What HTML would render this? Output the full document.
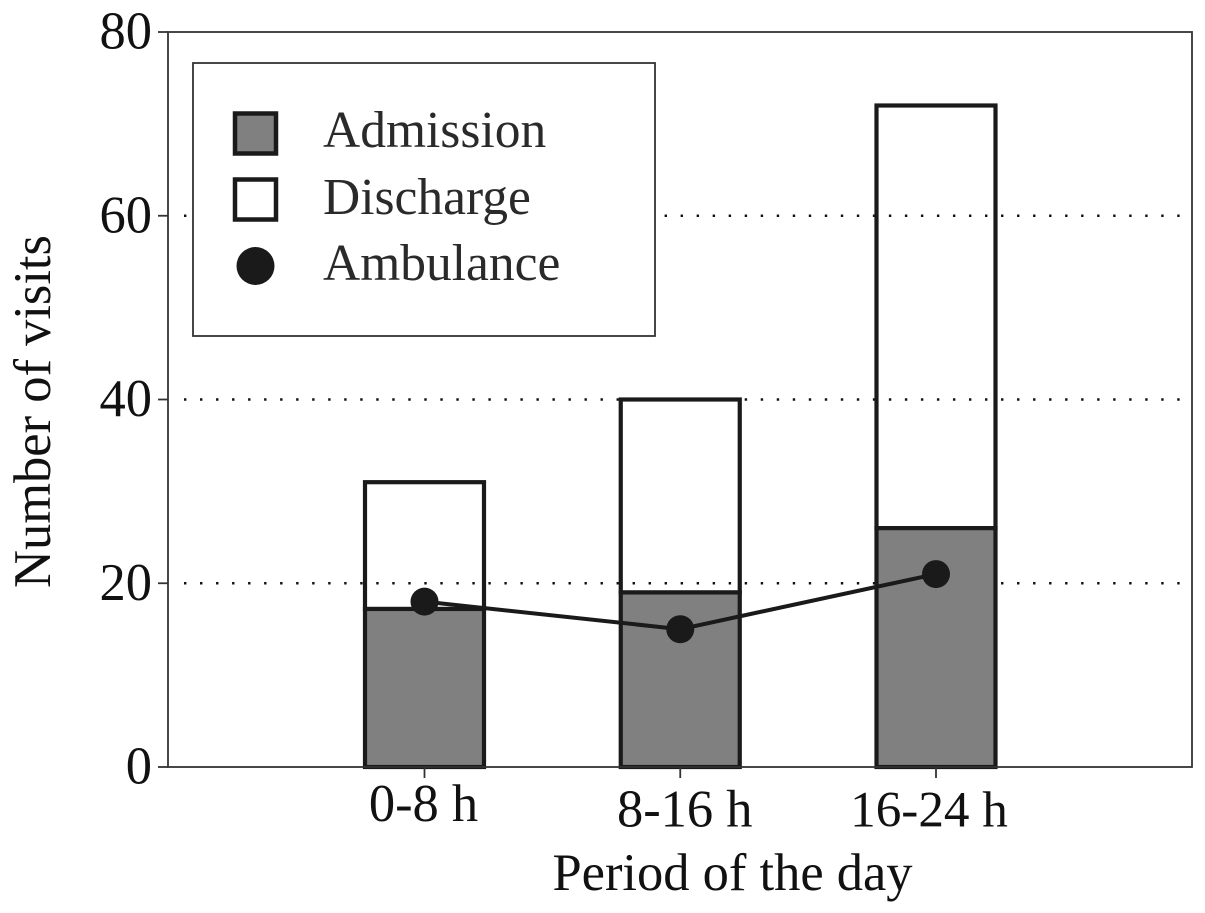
<!DOCTYPE html>
<html>
<head>
<meta charset="utf-8">
<style>
html,body{margin:0;padding:0;background:#fff;width:1205px;height:913px;overflow:hidden}
svg{display:block}
text{font-family:"Liberation Serif",serif;fill:#111}
</style>
</head>
<body>
<svg id="chart" width="1205" height="913" viewBox="0 0 1205 913" xmlns="http://www.w3.org/2000/svg">
<g id="grid"></g>
<g id="bars"></g>
<g id="line"></g>
<rect x="168" y="32" width="1024" height="735" fill="none" stroke="#333" stroke-width="1.8"/>
<g id="axes"></g>
<text transform="translate(50,411.5) rotate(-90)" text-anchor="middle" font-size="52.5">Number of visits</text>
<text x="732.5" y="890" text-anchor="middle" font-size="52.5">Period of the day</text>
<g>
<rect x="193" y="63" width="462" height="273" fill="#fff" stroke="#333" stroke-width="1.8"/>
<rect x="235" y="113.5" width="41" height="40" fill="#808080" stroke="#1a1a1a" stroke-width="4.5"/>
<text x="323" y="147" font-size="51.5" style="fill:#2a2a2a">Admission</text>
<rect x="235" y="179.5" width="41" height="40" fill="#fff" stroke="#1a1a1a" stroke-width="4.5"/>
<text x="323" y="214" font-size="51.5" style="fill:#2a2a2a">Discharge</text>
<circle cx="255.5" cy="266" r="19" fill="#1a1a1a"/>
<text x="323" y="280" font-size="51.5" style="fill:#2a2a2a">Ambulance</text>
</g>
</svg>
<script>
const categories = ['0-8 h', '8-16 h', '16-24 h'];
const admission = [17.2, 19, 26];
const discharge = [13.8, 21, 46];
const ambulance = [18, 15, 21];
const yTicks = [0, 20, 40, 60, 80];
const gridTicks = [20, 40, 60];

const NS = 'http://www.w3.org/2000/svg';
function yScale(v) { return 767 - v * (735 / 80); }
function xScale(i) { return 424.5 + i * 255.75; }
const barWidth = 119;
function make(tag, attrs, parent) {
  const el = document.createElementNS(NS, tag);
  for (const k in attrs) el.setAttribute(k, attrs[k]);
  parent.appendChild(el);
  return el;
}
const gridG = document.getElementById('grid');
const barsG = document.getElementById('bars');
const lineG = document.getElementById('line');
const axesG = document.getElementById('axes');

gridTicks.forEach(function (t) {
  const g = make('line', {x1: 184, x2: 1181, y1: yScale(t), y2: yScale(t), stroke: '#111', 'stroke-width': 2.4, 'stroke-dasharray': '2.4 13.62'}, gridG);
  
  
});

categories.forEach(function (c, i) {
  const x = xScale(i) - barWidth / 2;
  const top = admission[i] + discharge[i];
  const d = make('rect', {x: x, y: yScale(top), width: barWidth, height: yScale(admission[i]) - yScale(top), fill: 'none', stroke: '#1a1a1a', 'stroke-width': 4.2}, barsG);
  
  
  const a = make('rect', {x: x, y: yScale(admission[i]), width: barWidth, height: yScale(0) - yScale(admission[i]), fill: '#808080', stroke: '#1a1a1a', 'stroke-width': 4.2}, barsG);
  
  
});

const pts = ambulance.map(function (v, i) { return xScale(i) + ',' + yScale(v); }).join(' ');
const pl = make('polyline', {points: pts, fill: 'none', stroke: '#1a1a1a', 'stroke-width': 4}, lineG);


ambulance.forEach(function (v, i) {
  const p = make('circle', {cx: xScale(i), cy: yScale(v), r: 14, fill: '#1a1a1a'}, lineG);
  
  
});

yTicks.forEach(function (t) {
  const tick = make('line', {x1: 158, x2: 168, y1: yScale(t), y2: yScale(t), stroke: '#333', 'stroke-width': 1.8}, axesG);
  
  
  const lab = make('text', {x: 152, y: yScale(t) + 16.5, 'text-anchor': 'end', 'font-size': 52.5}, axesG);
  lab.textContent = t;
  
  
});
categories.forEach(function (c, i) {
  const tick = make('line', {x1: xScale(i), x2: xScale(i), y1: 767, y2: 778, stroke: '#333', 'stroke-width': 1.8}, axesG);
  
  
  const lab = make('text', {x: xScale(i), y: 826, 'text-anchor': 'middle', 'font-size': 52.5}, axesG);
  lab.textContent = c;
  if (i === 0) { lab.setAttribute('dx', -1); lab.setAttribute('dy', -5); }
  if (i === 1) { lab.setAttribute('dx', 4.5); lab.setAttribute('dy', 0.5); }
  if (i === 2) { lab.setAttribute('dx', -7); lab.setAttribute('dy', 0.5); lab.setAttribute('font-size', 51.2); }
  
  
});
</script>
</body>
</html>
